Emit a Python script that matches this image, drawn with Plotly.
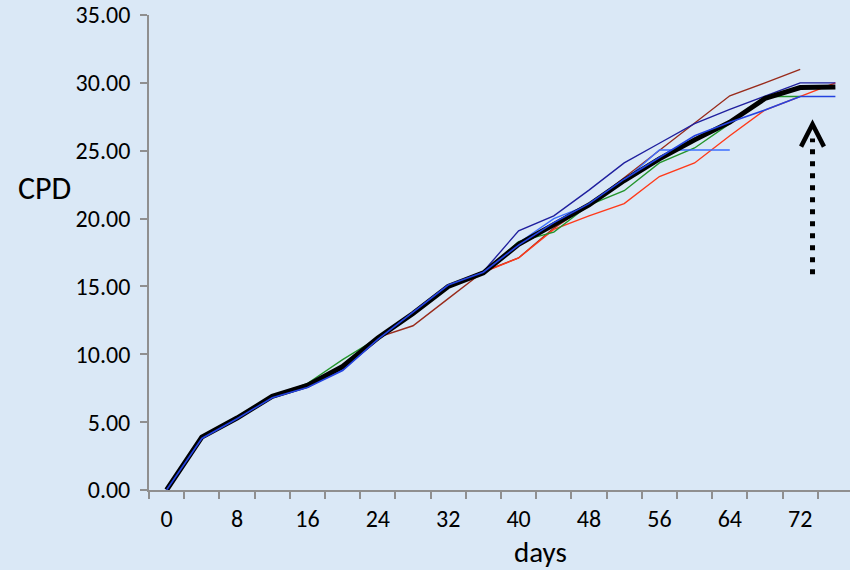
import plotly.graph_objects as go

# Sampling days (every 4 days) and cumulative population doublings (CPD)
days = [0, 4, 8, 12, 16, 20, 24, 28, 32, 36, 40, 44, 48, 52, 56, 60, 64, 68, 72, 76]

cpd_mean = [0.00, 3.90, 5.30, 6.90, 7.70, 9.10, 11.20, 13.00, 15.00, 16.00,
            18.10, 19.60, 21.00, 22.80, 24.40, 25.80, 27.10, 28.85, 29.65, 29.70]
cpd_brown = [0.00, 3.95, 5.35, 6.95, 7.75, 9.05, 11.25, 12.10, 14.10, 16.10,
             17.10, 19.30, 21.00, 23.00, 25.00, 27.00, 29.05, 30.00, 31.00, None]
cpd_red = [0.00, 3.95, 5.35, 6.95, 7.80, 9.10, 11.20, 13.00, 15.00, 16.05,
           17.10, 19.20, 20.20, 21.10, 23.10, 24.10, 26.10, 28.00, 29.00, 30.00]
cpd_green = [0.00, 3.85, 5.30, 6.85, 7.85, 9.60, 11.20, 13.00, 15.00, 16.00,
             18.30, 19.00, 21.00, 22.05, 24.10, 25.20, 27.00, 29.00, 29.00, None]
cpd_navy = [0.00, 3.85, 5.30, 6.85, 7.65, 8.95, 11.15, 13.05, 15.05, 16.10,
            19.10, 20.20, 22.10, 24.10, 25.55, 27.00, 28.05, 29.05, 30.00, 30.00]
cpd_lightblue = [0.00, 3.80, 5.25, 6.80, 7.60, 8.85, 11.10, 13.05, 15.05, 16.05,
                 18.20, 20.00, 21.00, 22.80, 25.05, 25.05, 25.05, None, None, None]
cpd_royal = [0.00, 3.80, 5.25, 6.80, 7.55, 8.80, 11.10, 13.10, 15.10, 16.05,
             18.05, 19.70, 21.10, 22.90, 24.50, 26.10, 27.10, 28.00, 29.00, 29.00]

x_tick_labels = ["0", "8", "16", "24", "32", "40", "48", "56", "64", "72"]
x_tick_vals = [0, 8, 16, 24, 32, 40, 48, 56, 64, 72]
y_tick_vals = [0, 5, 10, 15, 20, 25, 30, 35]

FONT = "Carlito, Calibri, Lato, sans-serif"
BG = "#DAE8F6"
AXIS_GREY = "#8F8F8F"

fig = go.Figure()

thin_series = [
    (cpd_brown, "#992B1B"),
    (cpd_red, "#FF3A1A"),
    (cpd_green, "#23952B"),
    (cpd_lightblue, "#3D6EFF"),
    (cpd_navy, "#1F1F9E"),
]
for values, color in thin_series:
    fig.add_trace(go.Scatter(x=days, y=values, mode="lines",
                             line=dict(color=color, width=1.4),
                             connectgaps=False, showlegend=False, hoverinfo="skip"))

fig.add_trace(go.Scatter(x=days, y=cpd_mean, mode="lines",
                         line=dict(color="#000000", width=5),
                         showlegend=False))
fig.add_trace(go.Scatter(x=days, y=cpd_royal, mode="lines",
                         line=dict(color="#2443E0", width=1.6),
                         showlegend=False, hoverinfo="skip"))

# Dotted upward arrow near the plateau
arrow_x = 73.4
fig.add_shape(type="line", xref="x", yref="y", x0=arrow_x, x1=arrow_x, y0=15.9, y1=25.9,
              line=dict(color="black", width=5, dash="5px,7px"))
fig.add_shape(type="path", xref="x", yref="y",
              path=f"M {arrow_x - 1.3},25.3 L {arrow_x},26.95 L {arrow_x + 1.3},25.3",
              line=dict(color="black", width=4.5))

# Axis titles
fig.add_annotation(text="CPD", xref="paper", yref="paper", x=-0.149, y=0.635,
                   xanchor="center", yanchor="middle", showarrow=False,
                   font=dict(family=FONT, size=32, color="black"))
fig.add_annotation(text="days", xref="paper", yref="paper", x=0.558, y=-0.131,
                   xanchor="center", yanchor="middle", showarrow=False,
                   font=dict(family=FONT, size=29, color="black"))

fig.update_layout(
    width=850, height=570,
    margin=dict(l=149, r=0, t=15, b=80),
    paper_bgcolor=BG, plot_bgcolor=BG,
    font=dict(family=FONT, size=24, color="black"),
    xaxis=dict(
        range=[-2, 77.66], tickvals=x_tick_vals, ticktext=x_tick_labels,
        ticks="", showgrid=False, zeroline=False,
        showline=True, linecolor=AXIS_GREY, linewidth=1.8,
        ticklabelstandoff=6,
        minor=dict(tick0=2, dtick=4, ticks="outside", ticklen=7,
                   tickcolor=AXIS_GREY, tickwidth=1.5, showgrid=False),
        fixedrange=True,
    ),
    yaxis=dict(
        range=[0, 35], tickvals=y_tick_vals, tickformat=".2f",
        ticks="outside", ticklen=7, tickcolor=AXIS_GREY, tickwidth=1.5,
        ticklabelstandoff=5,
        showgrid=False, zeroline=False,
        showline=True, linecolor=AXIS_GREY, linewidth=1.8,
        fixedrange=True,
    ),
)

fig.write_html("out.html")
